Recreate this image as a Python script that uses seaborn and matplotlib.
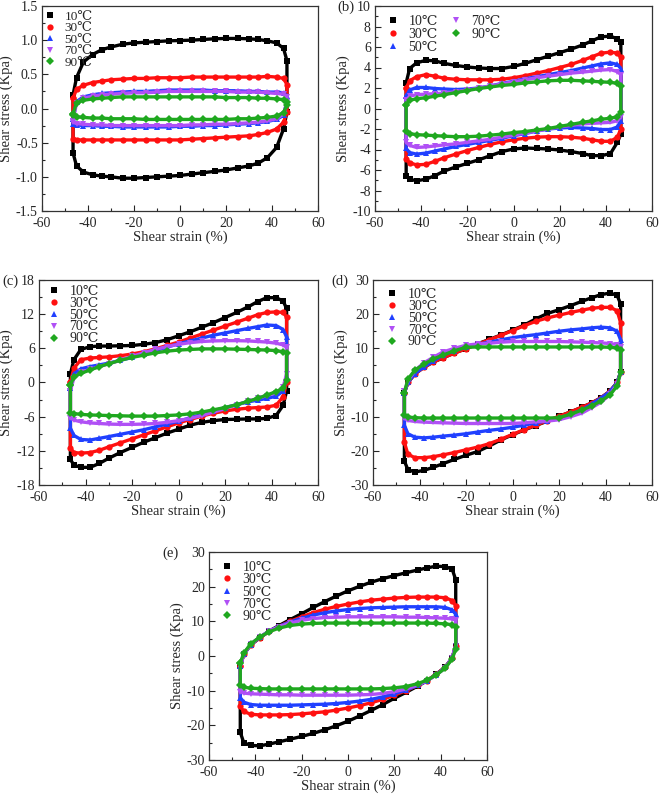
import pandas as pd
import matplotlib
matplotlib.use("Agg")
import matplotlib.pyplot as plt
from matplotlib.lines import Line2D
from matplotlib.ticker import MultipleLocator, FormatStrFormatter
import seaborn as sns

# strain grid (%) shared by every branch; upper branch left->right, lower branch left->right
strain = [-46.5, -45, -42, -38, -34, -30, -25, -20, -15, -10, -5, 0,
          5, 10, 15, 20, 25, 30, 34, 38, 42, 45, 46.5]
temps = ['10℃', '30℃', '50℃', '70℃', '90℃']

# (a)
a_up_10 = [0.2, 0.45, 0.68, 0.79, 0.86, 0.9, 0.94, 0.96, 0.97, 0.98, 0.99, 0.995, 1.0, 1.01, 1.02, 1.025, 1.025, 1.02, 1.01, 0.99, 0.96, 0.88, 0.7]
a_lo_10 = [-0.65, -0.84, -0.93, -0.97, -0.99, -1.0, -1.02, -1.02, -1.01, -1.0, -0.99, -0.98, -0.96, -0.94, -0.92, -0.9, -0.87, -0.84, -0.8, -0.72, -0.57, -0.3, -0.05]
a_up_30 = [0.15, 0.28, 0.34, 0.38, 0.4, 0.42, 0.43, 0.44, 0.44, 0.45, 0.45, 0.45, 0.46, 0.46, 0.46, 0.46, 0.46, 0.46, 0.46, 0.47, 0.46, 0.44, 0.35]
a_lo_30 = [-0.45, -0.46, -0.46, -0.46, -0.46, -0.46, -0.46, -0.46, -0.46, -0.46, -0.46, -0.46, -0.45, -0.44, -0.43, -0.42, -0.41, -0.4, -0.38, -0.35, -0.3, -0.2, -0.05]
a_up_50 = [-0.15, 0.1, 0.17, 0.2, 0.22, 0.23, 0.24, 0.25, 0.25, 0.26, 0.27, 0.27, 0.27, 0.27, 0.26, 0.26, 0.26, 0.25, 0.25, 0.24, 0.24, 0.23, 0.18]
a_lo_50 = [-0.22, -0.24, -0.25, -0.25, -0.26, -0.26, -0.27, -0.27, -0.27, -0.27, -0.27, -0.26, -0.26, -0.25, -0.25, -0.24, -0.23, -0.22, -0.21, -0.19, -0.16, -0.1, 0.1]
a_up_70 = [-0.18, 0.08, 0.15, 0.18, 0.2, 0.21, 0.22, 0.23, 0.23, 0.24, 0.25, 0.25, 0.25, 0.25, 0.25, 0.25, 0.24, 0.24, 0.24, 0.23, 0.22, 0.21, 0.17]
a_lo_70 = [-0.2, -0.22, -0.23, -0.24, -0.24, -0.25, -0.25, -0.25, -0.25, -0.25, -0.25, -0.25, -0.24, -0.24, -0.23, -0.23, -0.22, -0.21, -0.2, -0.18, -0.15, -0.08, 0.1]
a_up_90 = [-0.08, 0.08, 0.12, 0.14, 0.15, 0.16, 0.17, 0.17, 0.17, 0.17, 0.17, 0.17, 0.17, 0.17, 0.17, 0.16, 0.16, 0.16, 0.15, 0.15, 0.14, 0.13, 0.1]
a_lo_90 = [-0.1, -0.12, -0.13, -0.14, -0.14, -0.15, -0.15, -0.15, -0.16, -0.16, -0.16, -0.16, -0.16, -0.16, -0.16, -0.16, -0.15, -0.15, -0.14, -0.13, -0.11, -0.06, 0.05]

# (b)
b_up_10 = [2.5, 3.9, 4.45, 4.7, 4.65, 4.4, 4.2, 4.05, 3.95, 3.9, 3.9, 4.1, 4.4, 4.75, 5.1, 5.45, 5.8, 6.2, 6.6, 7.0, 7.05, 6.8, 6.5]
b_lo_10 = [-6.6, -6.9, -7.05, -6.9, -6.55, -6.1, -5.7, -5.35, -5.0, -4.6, -4.2, -3.95, -3.85, -3.9, -3.95, -4.05, -4.2, -4.4, -4.6, -4.6, -4.4, -3.3, -2.5]
b_up_30 = [2.0, 2.7, 3.1, 3.3, 3.15, 2.95, 2.85, 2.8, 2.8, 2.8, 2.85, 3.0, 3.2, 3.45, 3.7, 4.0, 4.3, 4.7, 5.05, 5.4, 5.5, 5.4, 5.0]
b_lo_30 = [-4.9, -5.3, -5.5, -5.45, -5.15, -4.8, -4.45, -4.1, -3.8, -3.5, -3.25, -3.05, -2.9, -2.8, -2.75, -2.75, -2.8, -2.9, -3.05, -3.2, -3.2, -2.8, -2.0]
b_up_50 = [1.2, 1.8, 2.05, 2.05, 1.95, 1.9, 1.85, 1.9, 2.0, 2.2, 2.45, 2.65, 2.9, 3.1, 3.3, 3.5, 3.7, 3.95, 4.15, 4.35, 4.45, 4.3, 3.9]
b_lo_50 = [-3.9, -4.3, -4.45, -4.35, -4.15, -3.95, -3.7, -3.5, -3.3, -3.1, -2.9, -2.65, -2.45, -2.2, -2.0, -1.9, -1.85, -1.9, -1.95, -2.05, -2.05, -1.8, -1.2]
b_up_70 = [0.8, 1.2, 1.35, 1.4, 1.45, 1.5, 1.65, 1.8, 2.0, 2.2, 2.4, 2.6, 2.8, 3.0, 3.15, 3.3, 3.45, 3.55, 3.65, 3.75, 3.8, 3.6, 3.3]
b_lo_70 = [-3.3, -3.6, -3.8, -3.75, -3.65, -3.55, -3.45, -3.3, -3.15, -3.0, -2.8, -2.6, -2.4, -2.2, -2.0, -1.8, -1.65, -1.5, -1.45, -1.4, -1.35, -1.2, -0.8]
b_up_90 = [0.3, 0.8, 0.95, 1.05, 1.2, 1.35, 1.55, 1.75, 1.95, 2.1, 2.25, 2.35, 2.5, 2.6, 2.7, 2.75, 2.75, 2.7, 2.65, 2.6, 2.55, 2.45, 2.2]
b_lo_90 = [-2.2, -2.45, -2.55, -2.6, -2.65, -2.7, -2.75, -2.75, -2.7, -2.6, -2.5, -2.35, -2.25, -2.1, -1.95, -1.75, -1.55, -1.35, -1.2, -1.05, -0.95, -0.8, -0.3]

# (c)
c_up_10 = [1.5, 4.0, 5.8, 6.3, 6.4, 6.4, 6.45, 6.5, 6.7, 7.0, 7.5, 8.2, 8.9, 9.7, 10.5, 11.4, 12.3, 13.3, 14.2, 14.9, 14.9, 14.3, 13.0]
c_lo_10 = [-13.5, -14.5, -14.9, -14.9, -14.2, -13.3, -12.3, -11.4, -10.5, -9.7, -8.9, -8.2, -7.5, -7.0, -6.7, -6.5, -6.45, -6.4, -6.4, -6.3, -5.8, -4.0, -1.5]
c_up_30 = [0.0, 2.5, 4.0, 4.3, 4.4, 4.5, 4.7, 5.0, 5.4, 5.9, 6.5, 7.1, 7.8, 8.5, 9.2, 9.9, 10.6, 11.3, 11.9, 12.3, 12.4, 12.3, 11.5]
c_lo_30 = [-11.5, -12.3, -12.4, -12.3, -11.9, -11.3, -10.6, -9.9, -9.2, -8.5, -7.8, -7.1, -6.5, -5.9, -5.4, -5.0, -4.7, -4.5, -4.4, -4.3, -4.0, -2.5, 0.0]
c_up_50 = [-1.0, 1.5, 2.4, 2.8, 3.1, 3.4, 3.9, 4.4, 5.0, 5.6, 6.2, 6.8, 7.3, 7.8, 8.3, 8.7, 9.1, 9.5, 9.8, 10.1, 10.0, 9.3, 8.0]
c_lo_50 = [-8.0, -9.3, -10.0, -10.1, -9.8, -9.5, -9.1, -8.7, -8.3, -7.8, -7.3, -6.8, -6.2, -5.6, -5.0, -4.4, -3.9, -3.4, -3.1, -2.8, -2.4, -1.5, 1.0]
c_up_70 = [-1.5, 0.8, 1.8, 2.3, 2.8, 3.3, 3.9, 4.6, 5.2, 5.8, 6.3, 6.7, 7.0, 7.2, 7.3, 7.35, 7.35, 7.3, 7.2, 7.1, 6.9, 6.6, 6.2]
c_lo_70 = [-6.2, -6.6, -6.9, -7.1, -7.2, -7.3, -7.35, -7.35, -7.3, -7.2, -7.0, -6.7, -6.3, -5.8, -5.2, -4.6, -3.9, -3.3, -2.8, -2.3, -1.8, -0.8, 1.5]
c_up_90 = [-0.5, 1.0, 1.6, 2.2, 2.8, 3.3, 3.9, 4.4, 4.8, 5.2, 5.5, 5.7, 5.8, 5.9, 5.9, 5.9, 5.85, 5.8, 5.75, 5.7, 5.6, 5.4, 5.2]
c_lo_90 = [-5.3, -5.45, -5.6, -5.7, -5.75, -5.8, -5.85, -5.9, -5.9, -5.9, -5.8, -5.7, -5.5, -5.2, -4.8, -4.4, -3.9, -3.3, -2.8, -2.2, -1.6, -1.0, 0.5]

# (d)
d_up_10 = [-3.0, 0.0, 2.5, 4.5, 6.0, 7.2, 8.6, 9.9, 11.3, 12.6, 13.9, 15.3, 16.8, 18.6, 20.2, 21.3, 22.5, 23.8, 24.8, 25.7, 26.2, 25.5, 23.0]
d_lo_10 = [-23.0, -25.5, -26.2, -25.7, -24.8, -23.8, -22.5, -21.3, -20.2, -18.6, -16.8, -15.3, -13.9, -12.6, -11.3, -9.9, -8.6, -7.2, -6.0, -4.5, -2.5, 0.0, 3.0]
d_up_30 = [-3.0, 0.0, 2.5, 4.5, 6.0, 7.2, 8.6, 9.9, 11.2, 12.5, 13.8, 15.2, 16.6, 17.9, 18.9, 19.7, 20.5, 21.2, 21.7, 22.0, 22.0, 21.0, 17.5]
d_lo_30 = [-17.5, -21.0, -22.0, -22.0, -21.7, -21.2, -20.5, -19.7, -18.9, -17.9, -16.6, -15.2, -13.8, -12.5, -11.2, -9.9, -8.6, -7.2, -6.0, -4.5, -2.5, 0.0, 3.0]
d_up_50 = [-3.0, 0.0, 2.6, 4.6, 6.3, 8.0, 9.3, 10.4, 11.2, 11.8, 12.5, 13.1, 13.6, 14.0, 14.5, 15.0, 15.4, 15.7, 16.0, 16.2, 16.0, 15.0, 12.5]
d_lo_50 = [-12.5, -15.0, -16.0, -16.2, -16.0, -15.7, -15.4, -15.0, -14.5, -14.0, -13.6, -13.1, -12.5, -11.8, -11.2, -10.4, -9.3, -8.0, -6.3, -4.6, -2.6, 0.0, 3.0]
d_up_70 = [-2.5, 0.3, 3.5, 5.8, 7.4, 8.9, 10.0, 10.9, 11.3, 11.5, 11.8, 12.0, 12.0, 12.0, 12.0, 12.0, 11.9, 11.8, 11.7, 11.6, 11.4, 11.1, 10.5]
d_lo_70 = [-10.5, -11.1, -11.4, -11.6, -11.7, -11.8, -11.9, -12.0, -12.0, -12.0, -12.0, -12.0, -11.8, -11.5, -11.3, -10.9, -10.0, -8.9, -7.4, -5.8, -3.5, -0.3, 2.5]
d_up_90 = [-3.0, 1.0, 3.6, 5.4, 6.9, 8.0, 9.3, 10.3, 10.4, 10.4, 10.4, 10.4, 10.4, 10.4, 10.4, 10.4, 10.4, 10.4, 10.4, 10.4, 10.3, 10.1, 9.5]
d_lo_90 = [-9.5, -10.1, -10.3, -10.4, -10.4, -10.4, -10.4, -10.4, -10.4, -10.4, -10.4, -10.4, -10.4, -10.4, -10.4, -10.3, -9.3, -8.0, -6.9, -5.4, -3.6, -1.0, 3.0]

# (e)
e_up_10 = [-3.0, 0.5, 3.2, 5.3, 7.2, 8.7, 10.5, 12.2, 14.0, 15.7, 17.3, 18.8, 20.1, 21.3, 22.3, 23.2, 24.0, 24.8, 25.4, 25.9, 25.8, 25.0, 22.0]
e_lo_10 = [-22.0, -25.0, -25.8, -25.9, -25.4, -24.8, -24.0, -23.2, -22.3, -21.3, -20.1, -18.8, -17.3, -15.7, -14.0, -12.2, -10.5, -8.7, -7.2, -5.3, -3.2, -0.5, 3.0]
e_up_30 = [-3.0, 0.5, 3.2, 5.3, 7.1, 8.5, 10.0, 11.3, 12.5, 13.5, 14.3, 15.0, 15.6, 16.1, 16.4, 16.7, 16.9, 17.0, 17.0, 17.0, 16.8, 16.0, 14.5]
e_lo_30 = [-14.5, -16.0, -16.8, -17.0, -17.0, -17.0, -16.9, -16.7, -16.4, -16.1, -15.6, -15.0, -14.3, -13.5, -12.5, -11.3, -10.0, -8.5, -7.1, -5.3, -3.2, -0.5, 3.0]
e_up_50 = [-3.0, 0.5, 3.3, 5.4, 7.2, 8.5, 9.8, 10.9, 11.8, 12.5, 13.0, 13.4, 13.7, 13.9, 14.0, 14.1, 14.2, 14.2, 14.2, 14.2, 14.0, 13.3, 12.0]
e_lo_50 = [-12.0, -13.3, -14.0, -14.2, -14.2, -14.2, -14.2, -14.1, -14.0, -13.9, -13.7, -13.4, -13.0, -12.5, -11.8, -10.9, -9.8, -8.5, -7.2, -5.4, -3.3, -0.5, 3.0]
e_up_70 = [-3.0, 0.5, 3.4, 5.5, 7.2, 8.4, 9.5, 10.3, 10.8, 11.1, 11.2, 11.3, 11.3, 11.3, 11.3, 11.3, 11.2, 11.2, 11.1, 11.0, 10.9, 10.7, 10.3]
e_lo_70 = [-10.3, -10.7, -10.9, -11.0, -11.1, -11.2, -11.2, -11.3, -11.3, -11.3, -11.3, -11.3, -11.2, -11.1, -10.8, -10.3, -9.5, -8.4, -7.2, -5.5, -3.4, -0.5, 3.0]
e_up_90 = [-2.0, 0.8, 3.5, 5.5, 7.0, 8.0, 8.8, 9.2, 9.4, 9.5, 9.5, 9.5, 9.5, 9.5, 9.5, 9.5, 9.5, 9.5, 9.5, 9.4, 9.3, 9.0, 8.5]
e_lo_90 = [-8.5, -9.0, -9.3, -9.4, -9.5, -9.5, -9.5, -9.5, -9.5, -9.5, -9.5, -9.5, -9.5, -9.5, -9.4, -9.2, -8.8, -8.0, -7.0, -5.5, -3.5, -0.8, 2.0]

panels = {
    'a': ([a_up_10, a_up_30, a_up_50, a_up_70, a_up_90], [a_lo_10, a_lo_30, a_lo_50, a_lo_70, a_lo_90]),
    'b': ([b_up_10, b_up_30, b_up_50, b_up_70, b_up_90], [b_lo_10, b_lo_30, b_lo_50, b_lo_70, b_lo_90]),
    'c': ([c_up_10, c_up_30, c_up_50, c_up_70, c_up_90], [c_lo_10, c_lo_30, c_lo_50, c_lo_70, c_lo_90]),
    'd': ([d_up_10, d_up_30, d_up_50, d_up_70, d_up_90], [d_lo_10, d_lo_30, d_lo_50, d_lo_70, d_lo_90]),
    'e': ([e_up_10, e_up_30, e_up_50, e_up_70, e_up_90], [e_lo_10, e_lo_30, e_lo_50, e_lo_70, e_lo_90]),
}

# long table: each loop = upper branch, then lower branch walked back, then closed
rows = []
for p, (ups, los) in panels.items():
    for t, up, lo in zip(temps, ups, los):
        xs = strain + strain[::-1] + strain[:1]
        ys = up + lo[::-1] + up[:1]
        for k, (x, y) in enumerate(zip(xs, ys)):
            rows.append((p, t, k, x, y))
df = pd.DataFrame(rows, columns=['panel', 'temp', 'step', 'strain', 'stress'])

colors = ['#000000', '#FF1010', '#2040FF', '#B050F5', '#1FA81F']
marks = ['s', 'o', '^', 'v', 'D']
palette = dict(zip(temps, colors))
markers = dict(zip(temps, marks))

sns.set_style("ticks")
plt.rcParams['font.family'] = ['Liberation Serif', 'DejaVu Serif']
plt.rcParams['axes.unicode_minus'] = False

fig = plt.figure(figsize=(6.61, 7.95), dpi=100)

W, H = 661, 795
# axes boxes in pixels: left, top, right, bottom
boxes = {
    'a': (42, 6, 318, 211),
    'b': (375, 6, 652, 211),
    'c': (39, 280, 318, 485),
    'd': (373, 280, 652, 485),
    'e': (209, 552, 487, 760),
}
ylims = {'a': (-1.5, 1.5), 'b': (-10, 10), 'c': (-18, 18), 'd': (-30, 30), 'e': (-30, 30)}
ysteps = {'a': 0.5, 'b': 2, 'c': 6, 'd': 10, 'e': 10}
leg_pos = {'a': (0.0, 0.99), 'b': (0.035, 0.97), 'c': (0.025, 0.99), 'd': (0.04, 0.975), 'e': (0.035, 0.97)}
leg_space = {'a': -0.06, 'b': 0.0, 'c': -0.08, 'd': -0.08, 'e': -0.05}
leg_font = {'a': 9.5, 'b': 10, 'c': 10, 'd': 10, 'e': 10}
labels_pos = {'b': (337, 7), 'c': (2, 281), 'd': (331, 281), 'e': (162, 553)}

for p, (l, t, r, b) in boxes.items():
    ax = fig.add_axes([l / W, 1 - b / H, (r - l) / W, (b - t) / H])
    sub = df[df['panel'] == p]
    sns.lineplot(data=sub, x='strain', y='stress', hue='temp', style='temp',
                 hue_order=temps, style_order=temps, palette=palette,
                 markers=markers, dashes=False, sort=False, estimator=None,
                 lw=2.4, markersize=4.5, markeredgewidth=0, legend=False, ax=ax)

    ax.set_xlim(-60, 60)
    ax.set_ylim(*ylims[p])
    ax.xaxis.set_major_locator(MultipleLocator(20))
    ax.xaxis.set_minor_locator(MultipleLocator(10))
    ax.yaxis.set_major_locator(MultipleLocator(ysteps[p]))
    ax.yaxis.set_minor_locator(MultipleLocator(ysteps[p] / 2))
    if p == 'a':
        ax.yaxis.set_major_formatter(FormatStrFormatter('%.1f'))
    ax.tick_params(which='both', direction='in', top=False, right=False,
                   labelsize=10, width=0.8)
    ax.tick_params(axis='x', pad=4)
    ax.tick_params(axis='y', pad=3)
    ax.tick_params(which='major', length=4)
    ax.tick_params(which='minor', length=2.5)
    for s in ax.spines.values():
        s.set_linewidth(0.9)
        s.set_color('#333333')
    ax.set_xlabel('Shear strain (%)', fontsize=10.5, labelpad=1)
    ax.set_ylabel('Shear stress (Kpa)', fontsize=10.5, labelpad=2)

    handles = [Line2D([], [], ls='none', marker=m, color=c, markersize=4.5, markeredgewidth=0)
               for m, c in zip(marks, colors)]
    ax.legend(handles, temps, loc='upper left', bbox_to_anchor=leg_pos[p],
              ncol=2 if p == 'b' else 1, frameon=False, fontsize=leg_font[p],
              handlelength=0.8, handletextpad=0.7, labelspacing=leg_space[p],
              columnspacing=0.9, borderaxespad=0, borderpad=0.2)

    if p in labels_pos:
        lx, ly = labels_pos[p]
        fig.text(lx / W, 1 - ly / H, '(' + p + ')', fontsize=10.5, ha='left', va='center')

fig.savefig('out.png', dpi=100)
